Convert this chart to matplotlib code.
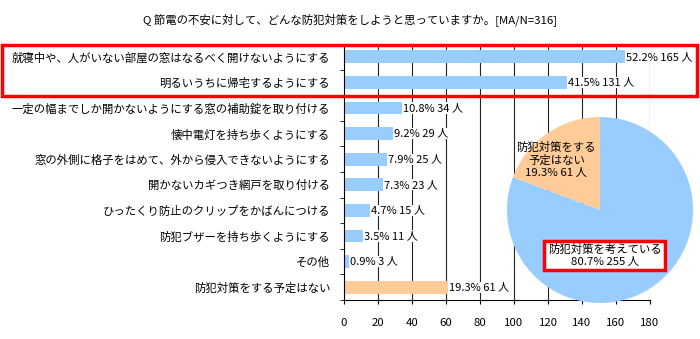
import numpy as np
import matplotlib
matplotlib.use('Agg')
from matplotlib import pyplot as plt
from matplotlib.patches import Rectangle

plt.rcParams['font.family'] = ['Noto Sans CJK JP', 'DejaVu Sans']

# data
labels = ['就寝中や、人がいない部屋の窓はなるべく開けないようにする',
          '明るいうちに帰宅するようにする',
          '一定の幅までしか開かないようにする窓の補助錠を取り付ける',
          '懐中電灯を持ち歩くようにする',
          '窓の外側に格子をはめて、外から侵入できないようにする',
          '開かないカギつき網戸を取り付ける',
          'ひったくり防止のクリップをかばんにつける',
          '防犯ブザーを持ち歩くようにする',
          'その他',
          '防犯対策をする予定はない']
counts = [165, 131, 34, 29, 25, 23, 15, 11, 3, 61]
pcts = [52.2, 41.5, 10.8, 9.2, 7.9, 7.3, 4.7, 3.5, 0.9, 19.3]
pie_vals = [61, 255]
pie_pcts = [19.3, 80.7]

blue = '#99CCFF'
orange = '#FFCC99'
fs = 8.2

fig = plt.figure(figsize=(7, 3.39), dpi=100)
ax = fig.add_axes([344/700, 39/339, 306/700, 256/339])

y = np.arange(len(labels))
cols = [blue]*9 + [orange]
ax.barh(y, counts, height=0.5, color=cols, zorder=2)
for yi, c, p in zip(y, counts, pcts):
    ax.text(c + 0.6, yi, f'{p}% {c} 人', va='center', ha='left', fontsize=8, zorder=3,
            bbox=dict(boxstyle='square,pad=0.05', fc='white', ec='none'))

ax.set_xlim(0, 180)
ax.set_ylim(9.5, -0.5)
ax.set_xticks(range(0, 181, 20))
ax.tick_params(axis='x', length=3, labelsize=fs, pad=10)
ax.set_yticks(y)
ax.set_yticklabels(labels, fontsize=fs)
ax.tick_params(axis='y', length=0, pad=10)
ax.set_yticks(np.arange(-0.5, 10, 1), minor=True)
ax.tick_params(axis='y', which='minor', length=3)
for x in range(20, 181, 20):
    ax.axvline(x, color='#222222', lw=0.8, zorder=1)
for s in ['top', 'right']:
    ax.spines[s].set_visible(False)

fig.text(350/700, 1 - 20/339, 'Q 節電の不安に対して、どんな防犯対策をしようと思っていますか。[MA/N=316]',
         ha='center', va='center', fontsize=fs)

# red box around top two rows
fig.patches.append(Rectangle((2/700, 1 - 96/339), 695/700, 51/339, transform=fig.transFigure,
                             fill=False, ec='#FF0000', lw=2.5, zorder=5))

# pie
pax = fig.add_axes([(600 - 93)/700, (339 - 210 - 93)/339, 186/700, 186/339])
pax.pie(pie_vals, colors=[orange, blue], startangle=90, counterclock=True, radius=1)
pax.set_xlim(-1, 1)
pax.set_ylim(-1, 1)
pax.set_aspect('equal')
pax.text(-0.47, 0.54, f'防犯対策をする\n予定はない\n{pie_pcts[0]}% {pie_vals[0]} 人',
         ha='center', va='center', fontsize=fs, linespacing=1.2)
pax.text(0.05, -0.49, f'防犯対策を考えている\n{pie_pcts[1]}% {pie_vals[1]} 人',
         ha='center', va='center', fontsize=fs, linespacing=1.2,
         bbox=dict(boxstyle='square,pad=0.3', fc='white', ec='#FF0000', lw=2.5))

fig.savefig('out.png', dpi=100)
